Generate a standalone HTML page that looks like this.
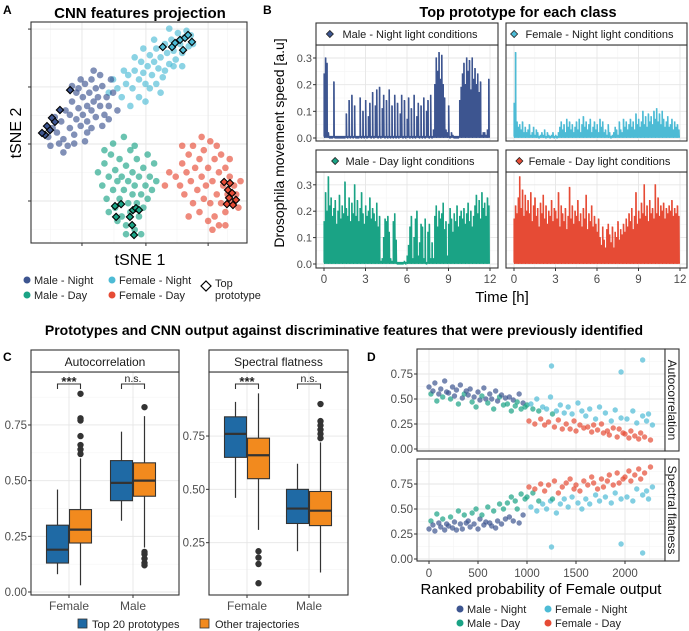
<!DOCTYPE html>
<html><head><meta charset="utf-8"><style>
html,body{margin:0;padding:0;background:#fff;}
svg{display:block;font-family:"Liberation Sans",Arial,sans-serif;}
</style></head><body>
<svg id="fig" width="689" height="631" viewBox="0 0 689 631" xmlns="http://www.w3.org/2000/svg"></svg>
<script>
// ---------- DATA ----------
const classNames = ["Male - Night","Male - Day","Female - Night","Female - Day"];
const classColors = ["#3d5590","#1aa385","#4dbbd5","#e64b35"];
// Panel A tSNE points (units 0-100)
const tsneMaleNight = [[8,48],[10,52],[12,50],[14,55],[15,47],[16,60],[18,52],[18,58],[19,64],[20,49],[21,56],[21,68],[22,61],[23,53],[24,66],[24,58],[25,72],[26,62],[26,55],[27,68],[28,60],[28,74],[29,64],[30,57],[30,70],[31,66],[32,62],[33,71],[34,58],[35,66],[36,62],[20,45],[17,44],[13,45],[26,50],[33,53],[38,68],[29,78],[23,74],[19,71],[11,57],[9,44],[25,46],[36,56],[40,60],[15,41],[28,52],[32,76],[22,70],[37,74]];
const tsneFemaleNight = [[36,68],[40,70],[42,66],[44,72],[45,76],[47,70],[48,78],[50,74],[51,82],[52,77],[53,72],[54,80],[55,85],[56,76],[57,82],[58,88],[59,79],[60,84],[61,75],[62,90],[63,86],[64,81],[65,92],[66,87],[67,83],[68,95],[69,90],[70,86],[71,93],[72,96],[73,89],[74,94],[46,62],[50,66],[55,70],[60,68],[48,84],[52,88],[57,92],[62,78],[66,80],[70,80],[43,78],[38,74],[64,97],[75,90],[53,64],[58,72]];
const tsneMaleDay = [[31,32],[33,26],[34,36],[35,20],[36,30],[37,40],[38,24],[39,16],[39,33],[40,28],[41,20],[41,38],[42,12],[42,30],[43,24],[44,35],[44,8],[45,18],[45,28],[46,42],[46,14],[47,22],[47,32],[48,6],[48,26],[49,18],[49,38],[50,12],[50,30],[51,22],[52,34],[52,16],[53,26],[54,20],[55,30],[56,24],[57,36],[44,4],[40,10],[36,14],[58,28],[54,40],[48,44],[38,45],[34,42],[43,48],[51,4]];
const tsneFemaleDay = [[67,30],[69,26],[70,36],[71,22],[72,32],[73,40],[74,28],[75,18],[75,44],[76,34],[77,24],[78,38],[78,14],[79,30],[80,42],[80,20],[81,26],[82,34],[82,10],[83,46],[83,18],[84,28],[85,38],[85,12],[86,22],[87,32],[87,8],[88,40],[88,18],[89,26],[90,34],[90,14],[91,22],[92,30],[93,18],[94,26],[95,22],[96,16],[86,44],[79,48],[84,6],[90,8],[73,12],[92,38],[97,28],[70,44],[64,32],[62,26]];
const protoMaleNight = [[6.5,48.9],[8.8,51.1],[9.7,56.6],[11.1,54.8],[13.4,60.2],[18.1,69.2],[5.1,49.8],[7.4,52.9]];
const protoFemaleNight = [[61,88.7],[65.3,88.7],[66.7,90.5],[69,91.9],[71.3,92.8],[72.7,94.1],[74.5,91],[70.4,87.3]];
const protoMaleDay = [[38.9,16.7],[41.7,17.6],[45.8,11.8],[47.2,14.9],[48.6,15.8],[50,14.9],[46.8,8.1],[47.7,3.6],[39.4,11.8]];
const protoFemaleDay = [[89.4,27.6],[92.1,27.1],[91.2,24],[93.1,22.6],[91.7,20.4],[94.9,19.5],[90.7,17.6],[93.5,17.2]];

// Panel B time series (0.1 h samples)
const speedMaleNight = [.24,.30,.28,.02,0,0,0,.21,0,0, 0,0,0,0,0,0,.09,0,.14,0, .16,0,.12,0,0,0,.15,0,.10,0, .14,0,.08,.13,0,.17,0,.12,.18,0, .19,0,.11,.16,0,.14,0,.18,0,.12, 0,.16,0,.13,0,.09,.16,0,.14,0, .07,.15,0,.11,0,.16,0,.08,.13,0, .12,0,.15,0,.10,.14,0,.16,0,.03, .20,.30,.25,.32,.22,.31,.20,.15,.03,.02, .12,0,.02,.01,0,0,0,0,.14,.19, .24,.28,.20,.30,.25,.29,.18,.30,.22,.26, .20,.24,.17,.21,.01,.02,.02,.01,.03,.22];
const speedFemaleNight = [.13,.32,.06,.04,.05,.03,.06,.02,.04,.02, .03,.05,.01,.02,.04,.01,.03,.02,0,.01, .02,.01,.03,0,.02,.01,0,.01,.02,0, .01,0,.02,.04,.06,.03,.05,.02,.07,.04, .06,.03,.05,.02,.04,.06,.03,.07,.02,.05, .08,.04,.06,.03,.05,.07,.02,.04,.06,.03, .05,.02,.07,.04,.06,.02,.03,.01,.05,.02, 0,.01,.02,.04,.03,.01,.06,.03,.02,.07, .04,.06,.03,.05,.07,.04,.06,.03,.09,.05, .07,.04,.06,.10,.05,.08,.04,.09,.06,.08, .05,.10,.07,.11,.06,.09,.05,.10,.07,.04, .06,.08,.04,.05,.07,.03,.06,.04,.05,.03];
const speedMaleDay = [.16,.27,.20,.33,.22,.25,.18,.21,.24,.15, .20,.26,.17,.22,.19,.31,.21,.18,.25,.16, .23,.19,.30,.18,.24,.16,.21,.27,.19,.15, .22,.18,.20,.25,.17,.21,.19,.16,.23,.14, .18,.01,.02,.10,.17,.16,.18,.12,.02,.01, .16,.19,.09,0,0,0,0,0,.01,0, .03,.07,.14,.18,.02,.10,.17,.20,.03,.08, .15,.14,.02,.17,0,.12,.15,.02,.08,.02, .18,.22,.14,.20,.17,.19,.23,.13,.16,.03, .15,.21,.17,.12,.19,.16,.22,.14,.18,.20, .17,.21,.15,.19,.23,.16,.20,.14,.18,.22, .26,.19,.24,.17,.27,.21,.23,.18,.25,.22];
const speedFemaleDay = [.17,.22,.19,.25,.33,.21,.28,.18,.26,.20, .24,.19,.27,.16,.22,.25,.18,.21,.14,.23, .19,.26,.17,.22,.15,.20,.18,.24,.16,.21, .20,.17,.27,.14,.22,.19,.16,.21,.13,.18, .29,.17,.22,.15,.20,.18,.24,.16,.19,.14, .21,.17,.26,.13,.19,.16,.22,.14,.18,.15, .12,.17,.10,.07,.14,.09,.06,.13,.15,.11, .08,.14,.06,.12,.10,.16,.09,.13,.11,.15, .12,.17,.14,.19,.16,.21,.13,.18,.27,.15, .20,.17,.23,.19,.30,.18,.22,.16,.24,.19, .21,.17,.30,.19,.25,.18,.22,.20,.23,.17, .21,.19,.22,.20,.24,.18,.21,.19,.22,.18];
const timeTicks = [0,3,6,9,12];
const speedTicks = [0,0.1,0.2,0.3];
const speedTickLabels = ["0.0","0.1","0.2","0.3"];

// Panel C boxplots: [lo, q1, med, q3, hi]
const boxCategories = ["Female","Male"];
const autoTop20 = [[0.08,0.13,0.19,0.30,0.46],[0.32,0.41,0.49,0.59,0.72]];
const autoOther = [[0.03,0.22,0.28,0.37,0.60],[0.20,0.43,0.50,0.58,0.79]];
const autoOtherOutliers = [[0.62,0.64,0.66,0.70,0.77,0.78,0.89],[0.83,0.12,0.13,0.15,0.17,0.18]];
const specTop20 = [[0.46,0.65,0.76,0.84,0.91],[0.21,0.34,0.41,0.50,0.62]];
const specOther = [[0.31,0.55,0.66,0.74,0.95],[0.11,0.33,0.40,0.49,0.72]];
const specOtherOutliers = [[0.21,0.18,0.15,0.06],[0.90,0.74,0.76,0.78,0.80,0.82]];
const cTicksAuto = [0,0.25,0.5,0.75];
const cTicksSpec = [0.25,0.5,0.75];

// Panel D scatter
const rankValues = [0,20,40,60,80,100,120,140,160,180, 200,220,240,260,280,300,320,340,360,380, 400,420,440,460,480,500,520,540,560,580, 600,620,640,660,680,700,720,740,760,780, 800,820,840,860,880,900,920,940,960,980, 1000,1020,1040,1060,1080,1100,1120,1140,1160,1180, 1200,1220,1240,1260,1280,1300,1320,1340,1360,1380, 1400,1420,1440,1460,1480,1500,1520,1540,1560,1580, 1600,1620,1640,1660,1680,1700,1720,1740,1760,1780, 1800,1820,1840,1860,1880,1900,1920,1940,1960,1980, 2000,2020,2040,2060,2080,2100,2120,2140,2160,2180, 2200,2220,2240,2260,2280,1250,2180,1960];
const rankClass = [0,1,0,0,1,0,0,1,0,0, 0,1,0,0,0,1,0,0,1,0, 0,0,1,0,1,0,0,1,0,0, 1,0,0,1,0,0,1,0,1,0, 1,0,1,0,1,1,0,1,0,1, 1,3,2,1,3,2,1,3,2,3, 2,3,2,1,3,2,3,2,3,2, 3,2,3,2,3,3,2,3,2,3, 2,3,2,3,3,2,3,2,3,3, 2,3,3,2,3,2,3,3,2,3, 3,2,3,3,2,3,2,3,3,2, 3,2,2,3,2,2,2,2];
const autoValues = [.62,.55,.58,.66,.48,.55,.60,.52,.68,.57, .56,.50,.62,.53,.59,.45,.64,.51,.55,.58, .54,.60,.47,.52,.42,.57,.49,.53,.61,.50, .46,.55,.50,.40,.58,.48,.52,.54,.44,.51, .45,.52,.38,.49,.43,.47,.55,.40,.46,.42, .44,.28,.45,.40,.25,.50,.38,.30,.42,.24, .40,.27,.52,.35,.22,.38,.29,.44,.20,.36, .25,.42,.20,.35,.28,.18,.46,.24,.38,.21, .33,.22,.40,.17,.24,.30,.19,.42,.25,.16, .36,.18,.14,.28,.21,.39,.12,.20,.31,.16, .15,.30,.11,.18,.38,.13,.26,.10,.16,.33, .12,.28,.35,.09,.24,.83,.89,.77];
const specValues = [.30,.38,.34,.28,.45,.36,.32,.40,.29,.35, .33,.42,.31,.37,.29,.48,.35,.30,.44,.36, .38,.32,.46,.35,.50,.30,.40,.44,.34,.37, .52,.36,.33,.48,.31,.38,.55,.35,.50,.40, .56,.42,.62,.38,.58,.50,.36,.65,.44,.60, .62,.72,.52,.66,.70,.48,.58,.75,.55,.68, .50,.74,.58,.60,.78,.46,.66,.55,.72,.60, .76,.52,.80,.62,.70,.74,.56,.68,.50,.78, .60,.74,.55,.82,.76,.64,.70,.58,.80,.72, .62,.78,.84,.56,.74,.66,.86,.76,.60,.80, .82,.62,.88,.78,.58,.84,.70,.90,.80,.64, .86,.68,.60,.92,.72,.12,.06,.15];
const dTicksX = [0,500,1000,1500,2000];
const dTicksY = [0,0.25,0.5,0.75];

// ---------- HELPERS ----------
const NS = "http://www.w3.org/2000/svg";
const svg = document.getElementById("fig");
function mk(tag, attrs, parent){
  const e = document.createElementNS(NS, tag);
  for (const k in attrs) e.setAttribute(k, attrs[k]);
  (parent||svg).appendChild(e);
  return e;
}
function txt(s, x, y, size, opts, name){
  const e = mk("text", Object.assign({x:x, y:y, "font-size":size, fill:"#000"}, opts||{}));
  e.textContent = s;
  
  
  return e;
}
function panelRect(x,y,w,h,name){
  const r = mk("rect",{x:x,y:y,width:w,height:h,fill:"none",stroke:"#333",'stroke-width':1.1});
  
  
  return r;
}
function gridLine(x1,y1,x2,y2,minor){
  const l = mk("line",{x1:x1,y1:y1,x2:x2,y2:y2,stroke:minor?"#f4f4f4":"#e6e6e6",'stroke-width':minor?0.6:0.9});
  
  
  return l;
}

// ---------- PANEL A ----------
txt("A", 3, 14, 12, {"font-weight":"bold"}, "panel-label-a");
txt("CNN features projection", 140, 18, 15, {"font-weight":"bold","text-anchor":"middle"}, "panel-a-title");
const ax0=31, ax1=247, ay0=243, ay1=22;
const sxA = u => ax0 + u*(ax1-ax0)/100;
const syA = u => ay0 - u*(ay0-ay1)/100;
const aXt=[23.6,53.2,82], aYt=[96.8,70.6,44.8,19];
[9,38.4,67.6,91].forEach(u=>gridLine(sxA(u),ay1,sxA(u),ay0,true));
[83.7,57.7,31.9,6].forEach(u=>gridLine(ax0,syA(u),ax1,syA(u),true));
aXt.forEach(u=>gridLine(sxA(u),ay1,sxA(u),ay0));
aYt.forEach(u=>gridLine(ax0,syA(u),ax1,syA(u)));
const tsneSets=[tsneMaleNight,tsneMaleDay,tsneFemaleNight,tsneFemaleDay];
const gA = mk("g",{});


[2,0,1,3].forEach(ci=>{
  tsneSets[ci].forEach(p=>{
    const c = mk("circle",{cx:sxA(p[0]),cy:syA(p[1]),r:3.3,fill:classColors[ci],'fill-opacity':0.65},gA);
    
    
  });
});
const protoSets=[protoMaleNight,protoMaleDay,protoFemaleNight,protoFemaleDay];
protoSets.forEach((set,ci)=>set.forEach(p=>{
  const x=sxA(p[0]), y=syA(p[1]);
  const d = mk("path",{d:`M${x} ${y-3.6}L${x+3.6} ${y}L${x} ${y+3.6}L${x-3.6} ${y}Z`,fill:classColors[ci],stroke:"#000",'stroke-width':1.1});
  
  
}));
panelRect(ax0,ay1,ax1-ax0,ay0-ay1,"panel-a-plot-area");
aXt.forEach(u=>{const l=mk("line",{x1:sxA(u),y1:ay0,x2:sxA(u),y2:ay0+3,stroke:"#333"});});
aYt.forEach(u=>{const l=mk("line",{x1:ax0-3,y1:syA(u),x2:ax0,y2:syA(u),stroke:"#333"});});
txt("tSNE 1", 140, 265, 16, {"text-anchor":"middle"}, "tsne-x-axis-title");
txt("tSNE 2", 0, 0, 16, {"text-anchor":"middle",transform:"translate(21,133) rotate(-90)"}, "tsne-y-axis-title");
// legend A
[[27,280,0],[27,295,1],[112,280,2],[112,295,3]].forEach(([x,y,ci])=>{
  const c=mk("circle",{cx:x,cy:y,r:3.5,fill:classColors[ci]});
  
  
  txt(classNames[ci], x+7, y+4, 11, {fill:"#222"}, "legend-a-entry");
});
const ld=mk("path",{d:"M206 281L211 286L206 291L201 286Z",fill:"#fff",stroke:"#000",'stroke-width':1.2});


txt("Top", 215, 287, 11, {fill:"#222"}, "legend-prototype-label");
txt("prototype", 215, 299, 11, {fill:"#222"}, "legend-prototype-label-2");

// ---------- PANEL B ----------
txt("B", 263, 14, 12, {"font-weight":"bold"}, "panel-label-b");
txt("Top prototype for each class", 518, 17, 14.5, {"font-weight":"bold","text-anchor":"middle"}, "panel-b-title");
const bPanels = [
  {x0:316,x1:498,sT:23,pT:45,pB:141,zero:138,per:266.7,t0:324,t12:490,data:speedMaleNight,ci:0,label:"Male - Night light conditions",name:"male-night"},
  {x0:506,x1:687,sT:23,pT:45,pB:141,zero:138,per:266.7,t0:514,t12:680,data:speedFemaleNight,ci:2,label:"Female - Night light conditions",name:"female-night"},
  {x0:316,x1:498,sT:150,pT:172,pB:268,zero:264,per:264,t0:324,t12:490,data:speedMaleDay,ci:1,label:"Male - Day light conditions",name:"male-day"},
  {x0:506,x1:687,sT:150,pT:172,pB:268,zero:264,per:264,t0:514,t12:680,data:speedFemaleDay,ci:3,label:"Female - Day light conditions",name:"female-day"}
];
bPanels.forEach((P,pi)=>{
  const sx = t => P.t0 + t*(P.t12-P.t0)/12;
  const sy = v => P.zero - v*P.per;
  [1.5,4.5,7.5,10.5].forEach(t=>gridLine(sx(t),P.pT,sx(t),P.pB,true));
  [0.05,0.15,0.25].forEach(v=>gridLine(P.x0,sy(v),P.x1,sy(v),true));
  timeTicks.forEach(t=>gridLine(sx(t),P.pT,sx(t),P.pB));
  speedTicks.forEach(v=>gridLine(P.x0,sy(v),P.x1,sy(v)));
  const g = mk("g",{});
  
  
  const n = P.data.length;
  let pts = [];
  P.data.forEach((v,i)=>{
    const t = i*12/n;
    const x = sx(t);
    pts.push(`${x},${sy(0.005)}`, `${x},${sy(v)}`, `${x+0.35},${sy(v)}`, `${x+0.7},${sy(0.005)}`);
    const b = mk("rect",{x:x-0.1,y:sy(v),width:1.1,height:Math.max(0,sy(0)-sy(v)),fill:classColors[P.ci]},g);
    
    
  });
  const pl = mk("polyline",{points:pts.join(" "),fill:"none",stroke:classColors[P.ci],'stroke-width':1.2},g);
  
  
  const base = mk("line",{x1:sx(0),y1:sy(0.005),x2:sx(12),y2:sy(0.005),stroke:classColors[P.ci],'stroke-width':1.6},g);
  
  
  panelRect(P.x0,P.pT,P.x1-P.x0,P.pB-P.pT,"speed-panel-"+P.name);
  const st = mk("rect",{x:P.x0,y:P.sT,width:P.x1-P.x0,height:P.pT-P.sT,fill:"#fff",stroke:"#333",'stroke-width':1.1});
  
  
  const cx=(P.x0+P.x1)/2;
  const lw = P.label.length*5.25;
  const dx = cx - lw/2 - 1;
  const dm = mk("path",{d:`M${dx} ${P.sT+7.5}L${dx+3.5} ${P.sT+11}L${dx} ${P.sT+14.5}L${dx-3.5} ${P.sT+11}Z`,fill:classColors[P.ci],stroke:"#222",'stroke-width':0.8});
  
  
  txt(P.label, cx+3, P.sT+15, 11, {"text-anchor":"middle",fill:"#1a1a1a"}, "strip-label-"+P.name);
  if (pi%2===0){
    speedTicks.forEach((v,k)=>{
      txt(speedTickLabels[k], P.x0-4, sy(v)+4, 11, {"text-anchor":"end",fill:"#4d4d4d"}, "speed-tick-label");
      const l=mk("line",{x1:P.x0-3,y1:sy(v),x2:P.x0,y2:sy(v),stroke:"#333"});
      
      
    });
  }
  if (pi>=2){
    timeTicks.forEach(t=>{
      txt(String(t), sx(t), 283, 11.5, {"text-anchor":"middle",fill:"#4d4d4d"}, "time-tick-label");
      const l=mk("line",{x1:sx(t),y1:P.pB,x2:sx(t),y2:P.pB+3,stroke:"#333"});
      
      
    });
  }
});
txt("Time [h]", 502, 302, 15, {"text-anchor":"middle"}, "time-axis-title");
txt("Drosophila movement speed [a.u]", 0, 0, 14, {"text-anchor":"middle",transform:"translate(284,143) rotate(-90)"}, "speed-axis-title");

// ---------- PANEL C ----------
txt("Prototypes and CNN output against discriminative features that were previously identified", 344, 335, 14, {"font-weight":"bold","text-anchor":"middle"}, "bottom-section-title");
txt("C", 3, 361, 12, {"font-weight":"bold"}, "panel-label-c");
const cPanels = [
  {x0:31,x1:179,cats:[69,133],yz:592,per:222.7,top:autoTop20,oth:autoOther,out:autoOtherOutliers,ticks:cTicksAuto,label:"Autocorrelation",name:"autocorrelation"},
  {x0:209,x1:348,cats:[247,309],yz:596,per:213.3,top:specTop20,oth:specOther,out:specOtherOutliers,ticks:cTicksSpec,label:"Spectral flatness",name:"spectral-flatness"}
];
const cTop=372, cBot=595, cStrip=350;
cPanels.forEach(P=>{
  const sy = v => P.yz - v*P.per;
  P.ticks.forEach(v=>gridLine(P.x0,sy(v),P.x1,sy(v)));
  [0.125,0.375,0.625,0.875].forEach(v=>{ if(sy(v)>cTop && sy(v)<cBot) gridLine(P.x0,sy(v),P.x1,sy(v),true);});
  P.cats.forEach(c=>gridLine(c,cTop,c,cBot));
  const drawBox=(s,cx,color,name)=>{
    const g=mk("g",{});
    
    
    const w1=mk("line",{x1:cx,y1:sy(s[0]),x2:cx,y2:sy(s[4]),stroke:"#333",'stroke-width':1.2},g);
    
    
    const r=mk("rect",{x:cx-11,y:sy(s[3]),width:22,height:sy(s[1])-sy(s[3]),fill:color,stroke:"#333",'stroke-width':1.1},g);
    
    
    const m=mk("line",{x1:cx-11,y1:sy(s[2]),x2:cx+11,y2:sy(s[2]),stroke:"#333",'stroke-width':2.2},g);
    
    
  };
  P.cats.forEach((c,i)=>{
    drawBox(P.top[i], c-11.5, "#1f6aa5", "box-top20-"+boxCategories[i].toLowerCase());
    drawBox(P.oth[i], c+11.5, "#f28a1e", "box-other-"+boxCategories[i].toLowerCase());
    P.out[i].forEach(v=>{
      const o=mk("circle",{cx:c+11.5,cy:sy(v),r:3.2,fill:"#333"});
      
      
    });
    const by = 384;
    const br=mk("path",{d:`M${c-11.5} ${by+5}V${by}H${c+11.5}V${by+5}`,fill:"none",stroke:"#333",'stroke-width':1.1});
    
    
    if(i===0) txt("***", c, by+2, 13, {"text-anchor":"middle","font-weight":"bold",fill:"#222"}, "significance-stars");
    else txt("n.s.", c, by-2, 10.5, {"text-anchor":"middle",fill:"#222"}, "significance-ns");
    txt(boxCategories[i], c, 610, 12, {"text-anchor":"middle",fill:"#4d4d4d"}, "box-category-label");
    const l=mk("line",{x1:c,y1:cBot,x2:c,y2:cBot+3,stroke:"#333"});
    
    
  });
  P.ticks.forEach(v=>{
    txt(v.toFixed(2), P.x0-4, sy(v)+4, 11.5, {"text-anchor":"end",fill:"#4d4d4d"}, "box-y-tick-label");
    const l=mk("line",{x1:P.x0-3,y1:sy(v),x2:P.x0,y2:sy(v),stroke:"#333"});
    
    
  });
  panelRect(P.x0,cTop,P.x1-P.x0,cBot-cTop,"box-panel-"+P.name);
  const st=mk("rect",{x:P.x0,y:cStrip,width:P.x1-P.x0,height:cTop-cStrip,fill:"#fff",stroke:"#333",'stroke-width':1.1});
  
  
  txt(P.label,(P.x0+P.x1)/2,cStrip+16,12,{"text-anchor":"middle",fill:"#1a1a1a"},"strip-label-"+P.name);
});
const lb1=mk("rect",{x:78,y:619,width:9,height:9,fill:"#1f6aa5",stroke:"#333",'stroke-width':0.8});


txt("Top 20 prototypes", 92, 628, 11, {fill:"#222"}, "legend-top20-label");
const lb2=mk("rect",{x:200,y:619,width:9,height:9,fill:"#f28a1e",stroke:"#333",'stroke-width':0.8});


txt("Other trajectories", 215, 628, 11, {fill:"#222"}, "legend-other-label");

// ---------- PANEL D ----------
txt("D", 367, 361, 12, {"font-weight":"bold"}, "panel-label-d");
const dx0=417, dx1=665;
const sxD = r => 429 + r*0.098;
const dPanels=[
  {yT:349,yB:451,yz:449,vals:autoValues,label:"Autocorrelation",name:"autocorrelation"},
  {yT:459,yB:561,yz:559,vals:specValues,label:"Spectral flatness",name:"spectral-flatness"}
];
dPanels.forEach(P=>{
  const sy = v => P.yz - v*100;
  [250,750,1250,1750,2250].forEach(r=>gridLine(sxD(r),P.yT,sxD(r),P.yB,true));
  [0.125,0.375,0.625,0.875].forEach(v=>gridLine(dx0,sy(v),dx1,sy(v),true));
  dTicksX.forEach(r=>gridLine(sxD(r),P.yT,sxD(r),P.yB));
  dTicksY.forEach(v=>gridLine(dx0,sy(v),dx1,sy(v)));
  const g=mk("g",{});
  
  
  rankValues.forEach((r,i)=>{
    const c=mk("circle",{cx:sxD(r),cy:sy(P.vals[i]),r:2.7,fill:classColors[rankClass[i]],'fill-opacity':0.7},g);
    
    
  });
  dTicksY.forEach(v=>{
    txt(v.toFixed(2), dx0-4, sy(v)+4, 11.5, {"text-anchor":"end",fill:"#4d4d4d"}, "scatter-y-tick-label");
    const l=mk("line",{x1:dx0-3,y1:sy(v),x2:dx0,y2:sy(v),stroke:"#333"});
    
    
  });
  panelRect(dx0,P.yT,dx1-dx0,P.yB-P.yT,"scatter-panel-"+P.name);
  const st=mk("rect",{x:dx1,y:P.yT,width:14,height:P.yB-P.yT,fill:"#fff",stroke:"#333",'stroke-width':1.1});
  
  
  txt(P.label,0,0,12,{"text-anchor":"middle",fill:"#1a1a1a",transform:`translate(${dx1+3},${(P.yT+P.yB)/2}) rotate(90)`},"strip-d-label-"+P.name);
});
dTicksX.forEach(r=>{
  txt(String(r), sxD(r), 577, 11.5, {"text-anchor":"middle",fill:"#4d4d4d"}, "rank-tick-label");
  const l=mk("line",{x1:sxD(r),y1:561,x2:sxD(r),y2:564,stroke:"#333"});
  
  
});
txt("Ranked probability of Female output", 541, 594, 15, {"text-anchor":"middle"}, "rank-axis-title");
[[460,609,0],[460,623,1],[548,609,2],[548,623,3]].forEach(([x,y,ci])=>{
  const c=mk("circle",{cx:x,cy:y,r:3.5,fill:classColors[ci]});
  
  
  txt(classNames[ci], x+7, y+4, 11, {fill:"#222"}, "legend-d-entry");
});
</script>
</body></html>
